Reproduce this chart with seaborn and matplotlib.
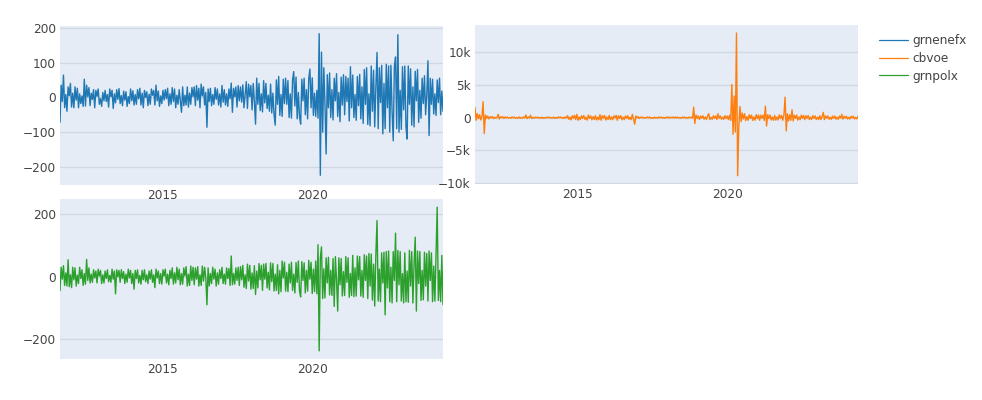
import pandas as pd
import matplotlib
matplotlib.use("Agg")
import matplotlib.pyplot as plt
import seaborn as sns
from matplotlib.ticker import FuncFormatter
from matplotlib.lines import Line2D

# dates: one sample every 14 days, Aug 2011 -> Apr 2024 (332 points)
dates = pd.date_range("2011-08-15", periods=332, freq="14D")

grnenefx = [
    -72, 35, -12, 64, -30, 8, -40, 30, 5, 40, -28, 12, -30,
    30, -8, 26, -30, 10, -18, 4, -26, 52, -25, 35, 2, 28,
    -24, 12, -6, 22, -30, 20, 3, 24, -20, -4, -26, 14, -10,
    20, -12, 8, -28, 24, 2, 20, -32, 10, -16, 22, -6, 25,
    -18, 5, -24, 18, -8, 16, -26, 2, -18, 24, -10, 19, -22,
    8, -20, 22, -4, 26, -22, 12, -30, 20, 0, 16, -24, 9,
    -20, 24, 6, 20, -22, 35, -10, 18, -26, 4, -18, 20, -8,
    22, -4, 26, -24, 10, -20, 28, -12, 24, -30, 6, -20, 22,
    -10, -43, 30, -24, 6, -22, 30, -28, 12, -20, 28, 2, 30,
    -24, 34, -8, 26, -30, 38, 4, 30, -22, 14, -86, 24, -12,
    26, -24, 8, -20, 28, -6, 24, -22, 10, -28, 34, -14, 22,
    -22, 10, -26, 24, -4, 41, -43, 26, 2, 30, -28, 34, -10,
    30, -14, 36, -30, 8, 45, -32, 38, 2, 34, -36, 40, -12,
    -77, 55, -20, 40, -38, 10, -42, 48, -16, 40, -32, 6, -40,
    38, -45, 12, -50, -80, 50, -20, 60, -52, 8, -55, 52, -18,
    55, -20, 48, -58, 10, -60, 50, 74, -25, 58, -62, 14, -56,
    -77, 52, -10, 55, -50, 22, -62, 54, 81, -30, 56, -52, 12,
    -55, 20, -60, 183, -224, 130, -100, 85, -20, -163, 65, -30, 70,
    -58, 22, -65, 55, -10, 68, -55, 14, -70, 58, -22, 65, -50,
    60, -12, 55, -68, 88, -30, 64, -58, 8, -66, 60, -24, 66,
    -62, 30, -75, 80, -20, 85, -78, 10, -82, 90, -40, 78, -85,
    30, 129, -90, 85, -15, 92, -105, 40, -90, 95, -30, 90, -100,
    92, -40, -125, 88, 116, -90, 180, -100, 20, -92, 88, -36, 90,
    -85, -120, 90, -20, 82, -80, 30, -85, 75, -10, 80, -72, 20,
    -60, 55, -18, 62, -50, 8, 105, -110, 55, -20, 52, -48, 10,
    -52, 50, -15, 55, -50, 18, -40,
]

cbvoe = [
    1560, -400, 600, -150, 450, -350, 200, 2424, -2424, 400, -100, 250, -200,
    150, -40, 180, -150, 60, -100, 20, 500, -200, 130, -30, 150, -120,
    100, -40, 90, -80, 20, -100, 120, -30, 80, -110, 10, -90, 120,
    -100, 30, -110, 120, -20, 400, -150, 100, -40, 350, -130, 50, -90,
    80, -20, 90, -70, 30, -90, 80, -110, 10, -80, 90, -30, 80,
    -90, 20, -80, 90, -110, 30, -100, 120, -20, 100, -80, 40, -120,
    100, -40, 300, -250, 80, -350, 280, -100, 350, -280, 500, -400, 100,
    -300, 280, -120, 320, -260, 60, -380, 400, -100, 260, -320, 150, -280,
    300, -350, 80, -320, 450, -400, 300, -80, 320, -360, 100, -300, 340,
    -280, 100, -320, 260, -50, 350, -400, 280, -100, 300, -320, 80, -300,
    260, -100, 300, -250, 60, -300, 500, -200, -1000, 250, -60, 150, -120,
    100, -30, 90, -100, 20, -80, 120, -40, 100, -110, 10, -100, 90,
    -80, 30, -90, 110, -20, 80, -90, 40, -110, 90, -30, 100, -90,
    80, -20, 90, -80, 110, -40, 100, -80, 20, -100, 80, -30, 100,
    -90, 30, -100, 90, -20, 100, -90, 1600, -900, 400, -100, 250, -280,
    250, -80, 280, -250, 100, -260, 240, 600, -300, 60, -240, 280, -100,
    260, -280, 600, -100, 250, -240, 80, -260, 300, -120, 260, -300, 350,
    -400, 5045, -2530, 3300, -2200, 12880, -8850, -1500, 1700, -600, 700, -200, 600,
    -450, 150, -400, 450, -120, 400, -420, 100, -400, 450, -150, 420, -400,
    380, -100, 400, -420, 1760, -1270, 450, -150, 400, -350, 100, -400, 350,
    -380, 120, -350, 420, -100, 350, -400, 380, 3120, -2030, 600, -500, 450,
    -400, 1200, -500, 380, -100, 400, -380, 120, -320, 380, -80, 320, -300,
    300, -100, 320, -300, 80, -260, 300, -100, 260, -300, 80, -260, 300,
    -280, 100, 800, -300, 280, -80, 260, -240, 60, -260, 240, -100, 250,
    -230, 80, -250, 240, -60, 500, -220, 200, -80, 220, -200, 50, -210,
    200, -60, 220, -200, 40, -190, 200,
]

grnpolx = [
    -45, 30, -8, 35, -28, 12, -30, 54, -32, 6, -35, 30, -10,
    28, -30, 5, -22, 30, -6, 22, -28, 10, -24, 55, -12, 28,
    -20, 8, -18, 22, -4, 18, -20, 24, 2, 20, -22, 6, -20,
    18, -6, 22, -16, 4, -18, 24, -8, 18, -55, 22, 0, 20,
    -18, 22, -6, 16, -22, 8, -18, 24, -4, 20, -22, 10, -40,
    20, -6, 22, -20, 4, -24, 20, -10, 22, -16, 6, -22, 18,
    -8, 22, -18, 6, -35, 24, -4, 18, -22, 10, -24, 22, 2,
    24, -20, 8, -26, 20, -6, 28, -24, 12, -20, 30, -10, 24,
    -26, 10, -24, 28, 2, 32, -30, 8, -28, 34, -12, 30, -26,
    28, -8, 32, -30, 6, -28, 34, -14, 30, -4, -90, 28, -30,
    10, -22, 30, -8, 24, -30, 12, -24, 22, -6, 30, -22, 8,
    -24, 28, -6, 26, -28, 66, -26, 10, -24, 28, -12, 30, -28,
    32, -10, 36, -34, 6, -38, 40, -14, 36, -40, 12, -38, 35,
    -57, 18, -36, 42, -10, 36, -44, 40, -8, 42, -36, 14, -42,
    44, -16, 42, -46, 8, -44, 38, -55, 20, -48, 50, -4, 46,
    -46, 14, -48, 40, -20, 46, -44, 8, -52, 45, -18, 50, -46,
    -65, 48, -12, 44, -52, 20, -46, 52, -8, 46, -54, 24, -48,
    50, -55, 102, -237, 60, 95, -70, 25, -68, 60, -20, 62, -58,
    20, -60, 58, -95, 64, -12, -110, 60, -26, 58, -62, 16, -60,
    64, -18, 60, -66, 10, -60, 68, -64, 28, -62, 66, -10, 64,
    -62, 20, -66, 70, -12, 66, -70, 74, -30, 72, -75, 40, -94,
    72, 179, -78, 24, -80, 76, -20, 78, -122, 80, -36, 82, -80,
    30, -84, 80, -12, 139, -80, 84, -26, 80, -78, 10, -84, 76,
    -80, 18, -82, 84, -30, 80, -84, 40, 126, -110, 82, -22, 80,
    -76, 20, -74, 78, -30, 74, -78, 82, -12, 76, -80, 34, -78,
    70, 222, -76, 20, -80, 68, -89,
]

series_names = ["grnenefx", "cbvoe", "grnpolx"]
colors = ["#1f77b4", "#ff7f0e", "#2ca02c"]
year_ticks = [pd.Timestamp("2015-01-01"), pd.Timestamp("2020-01-01")]
year_labels = ["2015", "2020"]

sns.set_style("darkgrid", {"axes.facecolor": "#E5ECF6", "grid.color": "#D2D8E2"})
plt.rcParams["font.family"] = ["DejaVu Sans"]

fig = plt.figure(figsize=(9.82, 4.0), dpi=100)
ax1 = fig.add_axes([0.0611, 0.5375, 0.390, 0.3975])
ax2 = fig.add_axes([0.4837, 0.54, 0.390, 0.3975])
ax3 = fig.add_axes([0.0611, 0.1017, 0.390, 0.4008])

def k_fmt(v, pos):
    if v == 0:
        return "0"
    return f"{v / 1000:.0f}k".replace("-", "\u2212")

def plain_fmt(v, pos):
    return f"{v:.0f}".replace("-", "\u2212")

setup = [
    (ax1, grnenefx, colors[0], (-252, 205), [-200, -100, 0, 100, 200], plain_fmt),
    (ax2, cbvoe, colors[1], (-10100, 14100), [-10000, -5000, 0, 5000, 10000], k_fmt),
    (ax3, grnpolx, colors[2], (-264, 248), [-200, 0, 200], plain_fmt),
]

for ax, vals, col, ylim, yt, fmt in setup:
    df = pd.DataFrame({"date": dates, "value": vals})
    sns.lineplot(data=df, x="date", y="value", ax=ax, color=col, linewidth=1.0, estimator=None)
    ax.set_xlim(dates[0], dates[-1])
    ax.set_ylim(*ylim)
    ax.set_yticks(yt)
    ax.yaxis.set_major_formatter(FuncFormatter(fmt))
    ax.set_xticks(year_ticks)
    ax.set_xticklabels(year_labels)
    ax.xaxis.grid(False)
    ax.yaxis.grid(True, linewidth=1.0)
    ax.set_xlabel("")
    ax.set_ylabel("")
    for s in ax.spines.values():
        s.set_visible(False)
    ax.tick_params(axis="both", length=0, labelsize=8.7, colors="#444444")
    ax.tick_params(axis="y", pad=3)
    ax.tick_params(axis="x", pad=3)

handles = [Line2D([0], [0], color=c, linewidth=0.9) for c in colors]
fig.legend(handles, series_names, loc="upper left", bbox_to_anchor=(0.895, 0.915),
           frameon=False, fontsize=8.7, handlelength=2.4, handletextpad=0.4,
           labelspacing=0.4, borderpad=0, borderaxespad=0, labelcolor="#444444")

fig.savefig("out.png", dpi=100)
